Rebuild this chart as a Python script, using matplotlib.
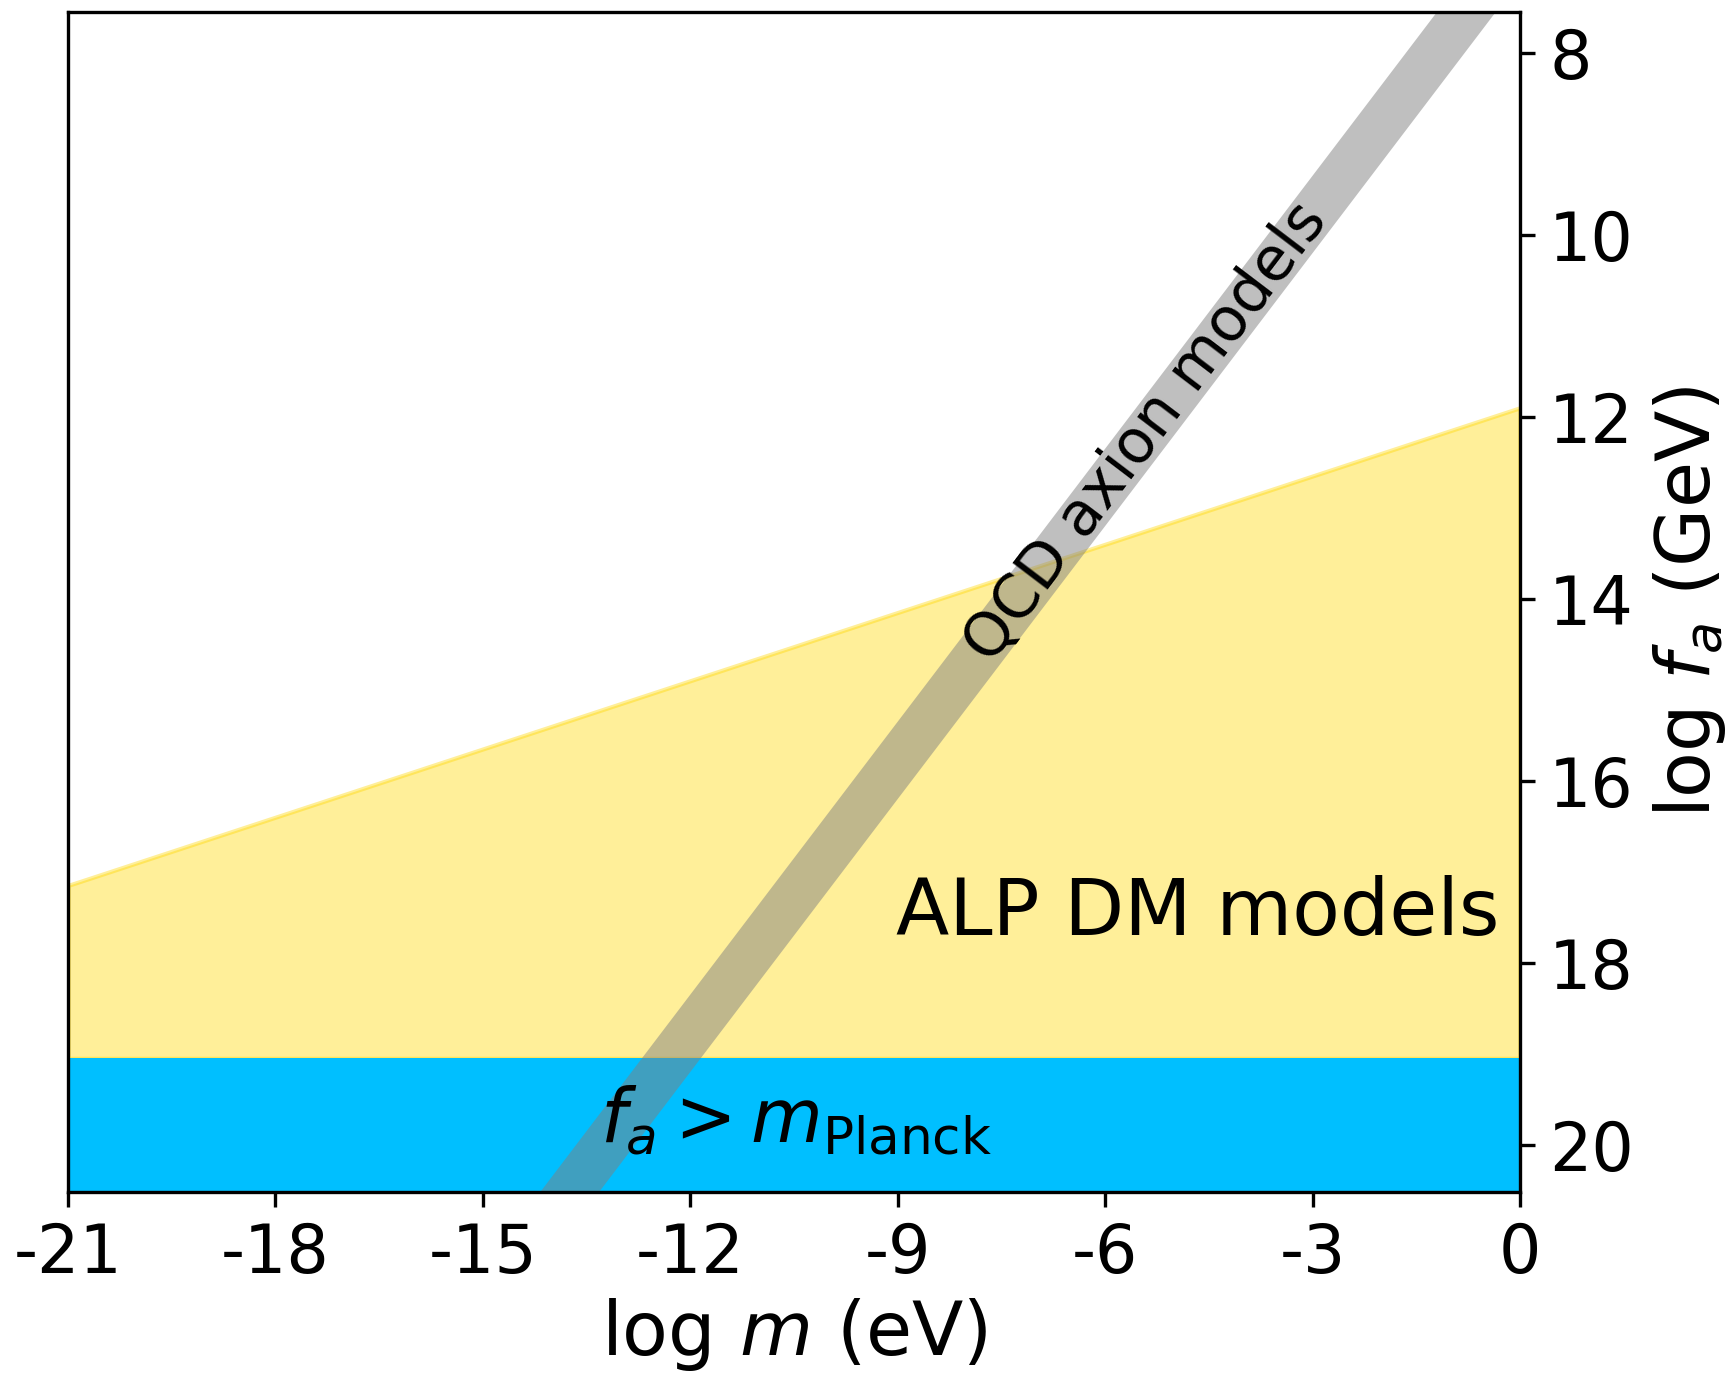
import matplotlib
matplotlib.use("Agg")
import matplotlib.pyplot as plt

# ALP dark matter upper edge (log m in eV, log f_a in GeV)
alp_m = [-21, 0]
alp_fa = [17.15, 11.9]

# Planck-mass bound
planck_fa = 19.05

# QCD axion band edges
qcd_m = [-15, 0]
qcd_fa_lo = [21.35, 6.35]
qcd_fa_hi = [22.2, 7.2]

xticks = [-21, -18, -15, -12, -9, -6, -3, 0]
xticklabels = ["-21", "-18", "-15", "-12", "-9", "-6", "-3", "0"]
yticks = [8, 10, 12, 14, 16, 18, 20]

fig = plt.figure(figsize=(1732 / 300, 1373 / 300), dpi=300)
ax = fig.add_axes([0.0393, 0.1318, 0.8383, 0.8595])

ax.fill_between(alp_m, alp_fa, [planck_fa, planck_fa], color="gold", alpha=0.4)
ax.axhspan(planck_fa, 21, color="deepskyblue", lw=0)
ax.fill_between(qcd_m, qcd_fa_lo, qcd_fa_hi, color="gray", alpha=0.5, lw=0)

ax.text(-5.4, 12.17, "QCD axion models", fontsize=14.5, rotation=52.8,
        ha="center", va="center", rotation_mode="anchor")
ax.text(-0.3, 17.7, "ALP DM models", fontsize=18.7, ha="right", va="baseline")
ax.text(-13.3, 19.97, r"$f_a > m_{\rm Planck}$", fontsize=17.7, ha="left", va="baseline")

ax.set_xlim(-21, 0)
ax.set_ylim(20.52, 7.55)
ax.set_xticks(xticks)
ax.set_xticklabels(xticklabels)
ax.set_yticks(yticks)
ax.yaxis.tick_right()
ax.yaxis.set_label_position("right")
ax.tick_params(labelsize=16)
ax.set_xlabel(r"log $m$ (eV)", fontsize=18, labelpad=2)
ax.set_ylabel(r"log $f_a$ (GeV)", fontsize=18)

fig.savefig("out.png", dpi=300)
